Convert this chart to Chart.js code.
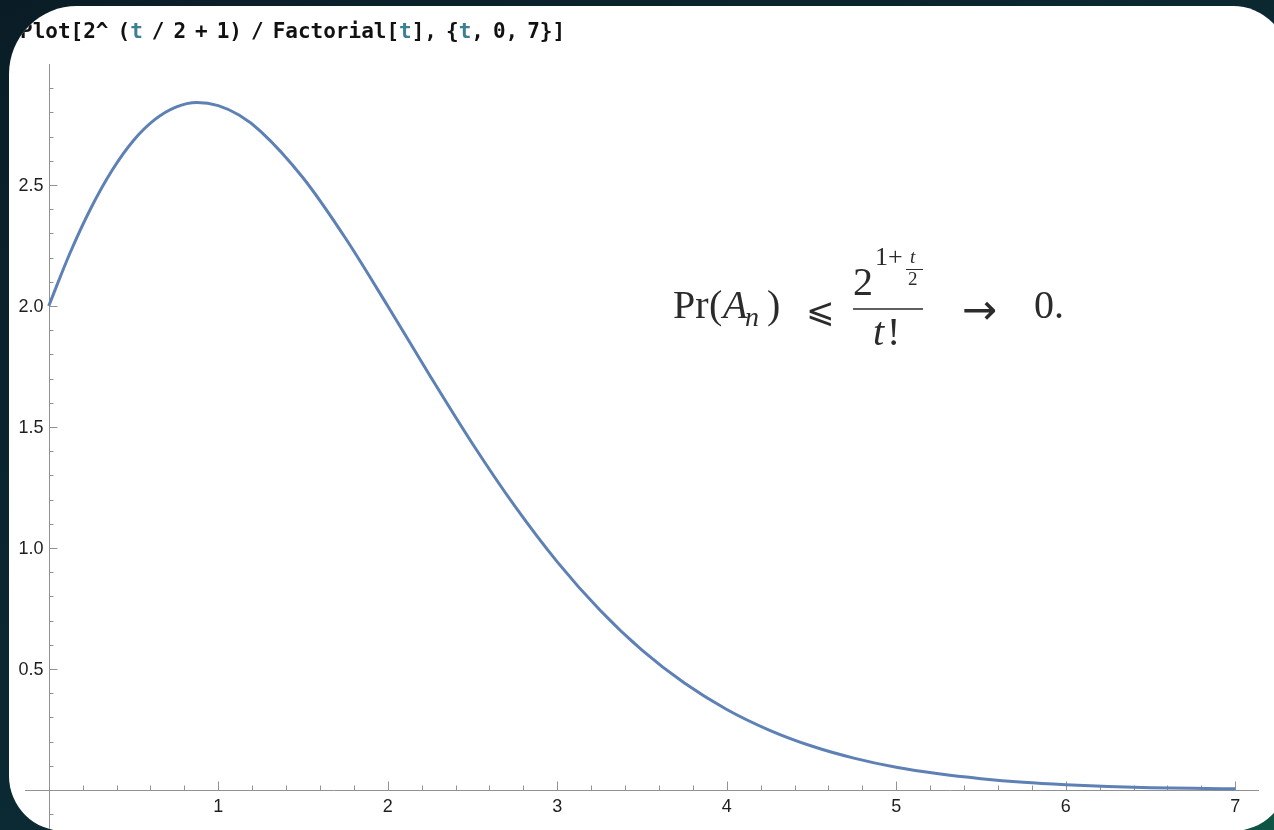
<!DOCTYPE html>
<html>
<head>
<meta charset="utf-8">
<script src="https://cdn.jsdelivr.net/npm/chart.js@4.4.0/dist/chart.umd.min.js"></script>
<style>
  html, body { margin: 0; padding: 0; }
  body {
    width: 1274px; height: 830px; overflow: hidden; position: relative;
    background: linear-gradient(150deg, #0a1d27 0%, #0b2a33 55%, #0e5545 100%);
  }
  #panel {
    position: absolute; left: 9px; top: 6px; width: 1279px; height: 825px;
    background: #fff; border-radius: 68px 55px 55px 55px; overflow: hidden;
  }
  #plot { position: absolute; left: -9px; top: -6px; }
</style>
</head>
<body>
<div id="panel"><canvas id="plot" width="1274" height="830"></canvas></div>
<script>
// sampled curve, t -> 2^(t/2+1)/t!
var tValues = [0, 0.125, 0.25, 0.375, 0.5, 0.625, 0.75, 0.875, 1, 1.125,
               1.25, 1.5, 1.75, 2, 2.25, 2.5, 2.75, 3, 3.25, 3.5, 3.75, 4,
               4.25, 4.5, 4.75, 5, 5.25, 5.5, 5.75, 6, 6.25, 6.5, 6.75, 7];
var fValues = [2.000, 2.218, 2.406, 2.562, 2.684, 2.770, 2.822, 2.841, 2.828, 2.788,
               2.722, 2.530, 2.281, 2.000, 1.711, 1.431, 1.173, 0.943, 0.745, 0.578, 0.442, 0.333,
               0.248, 0.182, 0.132, 0.094, 0.067, 0.047, 0.032, 0.022, 0.015, 0.010, 0.007, 0.005];

var xTicks = [1, 2, 3, 4, 5, 6, 7];
var xTickLabels = ['1', '2', '3', '4', '5', '6', '7'];
var yTicks = [0.5, 1.0, 1.5, 2.0, 2.5];
var yTickLabels = ['0.5', '1.0', '1.5', '2.0', '2.5'];

var axisColor = '#929292';
var labelFont = '18px "Liberation Sans", Arial, sans-serif';

var points = tValues.map(function(t, i) { return { x: t, y: fValues[i] }; });

function tick(ctx, x1, y1, x2, y2) {
    ctx.beginPath();
    ctx.moveTo(x1, y1);
    ctx.lineTo(x2, y2);
    ctx.stroke();
}

// Mathematica-style axes crossing at the origin, ticks pointing inward
var axesPlugin = {
    id: 'axes',
    beforeDatasetsDraw: function(chart) {
        var ctx = chart.ctx, xs = chart.scales.x, ys = chart.scales.y;
        var x0 = Math.round(xs.getPixelForValue(0)) + 0.5;
        var y0 = Math.round(ys.getPixelForValue(0)) + 0.5;
        ctx.save();
        ctx.strokeStyle = axisColor;
        ctx.lineWidth = 1;
        tick(ctx, xs.left, y0, xs.right, y0);
        tick(ctx, x0, ys.top, x0, ys.bottom);

        var i, v, px;
        for (i = 1; i <= 35; i++) {
            v = i * 0.2;
            px = Math.round(xs.getPixelForValue(v)) + 0.5;
            tick(ctx, px, y0, px, y0 - (i % 5 === 0 ? 9 : 5));
        }
        for (i = -1; i <= 29; i++) {
            if (i === 0) continue;
            v = i * 0.1;
            px = Math.round(ys.getPixelForValue(v)) + 0.5;
            tick(ctx, x0, px, x0 + (i % 5 === 0 ? 8 : 4), px);
        }

        ctx.fillStyle = '#1e1e1e';
        ctx.font = labelFont;
        ctx.textAlign = 'center';
        ctx.textBaseline = 'top';
        xTicks.forEach(function(t, k) {
            ctx.fillText(xTickLabels[k], xs.getPixelForValue(t), y0 + 8);
        });
        ctx.textAlign = 'right';
        ctx.textBaseline = 'middle';
        yTicks.forEach(function(t, k) {
            ctx.fillText(yTickLabels[k], x0 - 6, ys.getPixelForValue(t) + 1);
        });
        ctx.restore();
    }
};

// input line on top and the bound written beside the curve
var textPlugin = {
    id: 'notes',
    afterDraw: function(chart) {
        var ctx = chart.ctx;
        ctx.save();

        var parts = [['P', '#111'], ['lot[2^ (', '#111'], ['t', '#3c8096'], [' / 2 + 1) / Factorial[', '#111'],
                     ['t', '#3c8096'], ['], {', '#111'], ['t', '#3c8096'], [', 0, 7}]', '#111']];
        ctx.font = 'bold 21px "DejaVu Sans Mono", monospace';
        ctx.textBaseline = 'alphabetic';
        var pitch = ctx.measureText('M').width, space = 9;
        var x = 20;
        parts.forEach(function(p) {
            ctx.fillStyle = p[1];
            for (var k = 0; k < p[0].length; k++) {
                var ch = p[0][k];
                if (ch === ' ') { x += space; continue; }
                ctx.fillText(ch, x, 38);
                x += pitch;
            }
        });

        var ink = '#2b2b2b';
        ctx.fillStyle = ink;
        ctx.strokeStyle = ink;
        var serif = '"Liberation Serif", "DejaVu Serif", serif';
        ctx.font = '40px ' + serif;
        ctx.fillText('Pr', 673, 318);
        ctx.fillText('(', 709, 318);
        ctx.font = 'italic 40px ' + serif;
        ctx.fillText('A', 723, 318);
        ctx.font = 'italic 28px ' + serif;
        ctx.fillText('n', 745, 326);
        ctx.font = '40px ' + serif;
        ctx.fillText(')', 767, 318);

        ctx.font = '34px "DejaVu Sans", sans-serif';
        ctx.fillText('\u2A7D', 806, 322);

        ctx.font = '40px ' + serif;
        ctx.fillText('2', 853, 295);
        ctx.font = '26px ' + serif;
        ctx.fillText('1+', 875, 265);
        ctx.font = 'italic 19px ' + serif;
        ctx.fillText('t', 910, 263);
        ctx.font = '19px ' + serif;
        ctx.fillText('2', 908, 285);
        ctx.lineWidth = 1;
        tick(ctx, 906, 269.5, 923, 269.5);
        ctx.lineWidth = 1.5;
        tick(ctx, 853, 309, 923, 309);
        ctx.font = 'italic 40px ' + serif;
        ctx.fillText('t', 873, 345);
        ctx.font = '40px ' + serif;
        ctx.fillText('!', 887, 345);

        ctx.font = '42px "DejaVu Sans", sans-serif';
        ctx.fillText('\u2192', 962, 324);
        ctx.font = '40px ' + serif;
        ctx.fillText('0.', 1034, 318);
        ctx.restore();
    }
};

var ctx = document.getElementById('plot');
new Chart(ctx, {
    type: 'line',
    data: {
        datasets: [{
            data: points,
            borderColor: '#5e81b5',
            borderWidth: 3,
            pointRadius: 0,
            fill: false,
            cubicInterpolationMode: 'monotone',
            clip: false
        }]
    },
    options: {
        responsive: false,
        animation: false,
        devicePixelRatio: 1,
        layout: { padding: { left: 25, top: 64, right: 15, bottom: 0 } },
        plugins: {
            legend: { display: false },
            tooltip: { enabled: false }
        },
        scales: {
            x: { type: 'linear', min: -0.14, max: 7.14, display: false },
            y: { type: 'linear', min: -0.165, max: 3.0, display: false }
        }
    },
    plugins: [axesPlugin, textPlugin]
});
</script>
</body>
</html>
